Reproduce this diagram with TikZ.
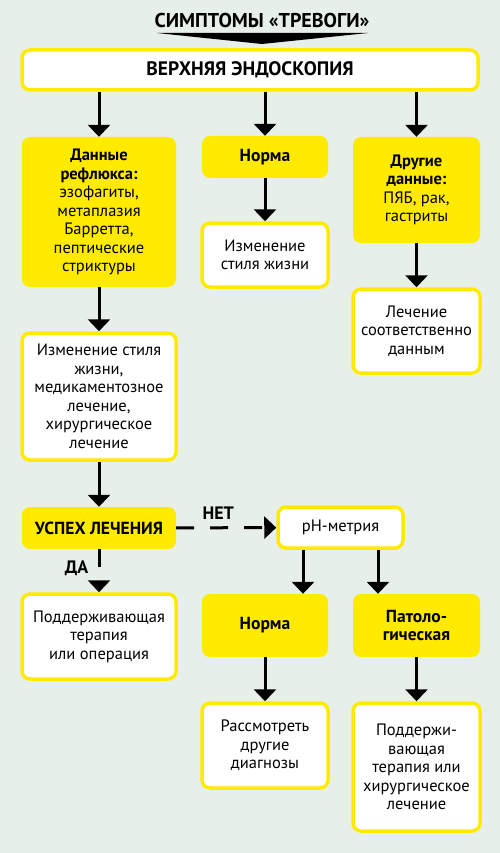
\documentclass[tikz,border=0pt]{standalone}
\usepackage{fontspec}
\setmainfont{PT Sans}
\usetikzlibrary{arrows.meta,calc}
\definecolor{bgmint}{RGB}{230,240,232}
\definecolor{flowyellow}{RGB}{255,234,0}
\tikzset{
	whitebox/.style={draw=flowyellow, line width=3.5pt, fill=white, rounded corners=8pt, align=center, inner sep=0pt, font=\fontsize{16.5}{18.5}\selectfont},
	yellowbox/.style={fill=flowyellow, rounded corners=8pt, align=center, inner sep=0pt, font=\fontsize{16.5}{18.5}\selectfont},
	boldbox/.style={font=\bfseries\fontsize{17.5}{18.5}\selectfont},
	boxsize/.style args={#1:#2}{minimum width=#1pt, minimum height=#2pt},
	arr/.style={line width=3pt, -{Triangle[width=22pt,length=12pt]}},
	dasharr/.style={arr, dash pattern=on 18pt off 16pt},
	tag/.style={font=\bfseries\fontsize{18}{18}\selectfont}
}
\begin{document}
\begin{tikzpicture}[x=1pt, y=-1pt]
			%%%%% START %%%%%
			
			\fill[bgmint] (0, 0) rectangle (500, 853);
			\useasboundingbox (0, 0) rectangle (500, 853);
			
			\node[tag, font=\bfseries\fontsize{20}{20}\selectfont] (title) at (262, 21) {СИМПТОМЫ «ТРЕВОГИ»};
			\fill[black] (157, 33) -- (368, 33) -- (262, 44) -- cycle;
			
			\node[whitebox, boxsize=456:40, font=\bfseries\fontsize{19.5}{20}\selectfont] (endo) at (250, 70) {ВЕРХНЯЯ ЭНДОСКОПИЯ};
			
			\node[yellowbox, boxsize=154:150] (reflux) at (99, 212) {\textbf{Данные}\\\textbf{рефлюкса:}\\эзофагиты,\\метаплазия\\Барретта,\\пептические\\стриктуры};
			\node[yellowbox, boxsize=126:42, boldbox] (norma) at (265, 157) {Норма};
			\node[yellowbox, boxsize=127:106] (other) at (416.5, 190) {\textbf{Другие}\\\textbf{данные:}\\ПЯБ, рак,\\гастриты};
			
			\node[whitebox, boxsize=126:64] (life) at (265, 255) {Изменение\\стиля жизни};
			\node[whitebox, boxsize=127:84] (treatdata) at (416.5, 331) {Лечение\\соответственно\\данным};
			\node[whitebox, boxsize=154:127] (lifemed) at (99, 396.5) {Изменение стиля\\жизни,\\медикаментозное\\лечение,\\хирургическое\\лечение};
			
			\node[yellowbox, boxsize=154:42, boldbox] (success) at (99, 528) {УСПЕХ ЛЕЧЕНИЯ};
			\node[whitebox, boxsize=125:41] (ph) at (340.5, 527.5) {рН-метрия};
			
			\node[whitebox, boxsize=154:85] (support) at (99, 636.5) {Поддерживающая\\терапия\\или операция};
			\node[yellowbox, boxsize=126:63, boldbox] (phnorm) at (265, 625.5) {Норма};
			\node[yellowbox, boxsize=127:63, boldbox] (phpath) at (416.5, 625.5) {Патоло-\\гическая};
			
			\node[whitebox, boxsize=126:85] (diag) at (265, 745.5) {Рассмотреть\\другие\\диагнозы};
			\node[whitebox, boxsize=127:128] (surgery) at (416.5, 767) {Поддержи-\\вающая\\терапия или\\хирургическое\\лечение};
			
			\draw[arr] (endo.south -| reflux.north) -- (reflux.north);
			\draw[arr] (endo.south -| norma.north) -- (norma.north);
			\draw[arr] (endo.south -| other.north) -- (other.north);
			
			\draw[arr] (norma) -- (life);
			\draw[arr] (other) -- (treatdata);
			\draw[arr] (reflux) -- (lifemed);
			\draw[arr] (lifemed) -- (success);
			
			\draw[dasharr] (success) -- (ph) node[tag, pos=0.42, above=3pt] {НЕТ};
			\draw[dasharr] (success) -- (support) node[tag, pos=0.45, left=6pt] {ДА};
			
			\coordinate (phleft) at ($(ph.south)+(-37.5, 0)$);
			\coordinate (phright) at ($(ph.south)+(37.5, 0)$);
			\draw[arr] (phleft) -- (phleft |- phnorm.north);
			\draw[arr] (phright) -- (phright |- phpath.north);
			
			\draw[arr] (phnorm) -- (diag);
			\draw[arr] (phpath) -- (surgery);
			
			%%%%% END %%%%%
		\end{tikzpicture}
\end{document}
